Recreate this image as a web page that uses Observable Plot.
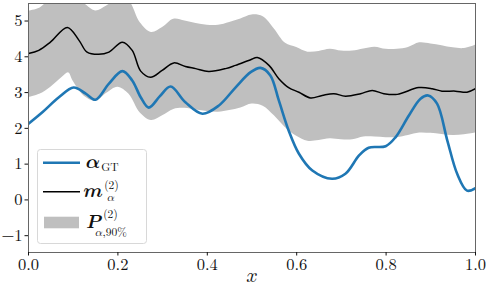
<!DOCTYPE html>
<html>
<head>
<meta charset="utf-8">
<script src="https://cdn.jsdelivr.net/npm/d3@7"></script>
<script src="https://cdn.jsdelivr.net/npm/@observablehq/plot@0.6"></script>
<style>
  body { margin: 0; background: white; }
  svg text, svg tspan { font-family: "Latin Modern Roman", "Latin Modern Math", "DejaVu Serif", serif; }
  svg .math, svg .math tspan { font-family: "Latin Modern Math", "Latin Modern Roman", "DejaVu Serif", serif; }
</style>
</head>
<body>
<div id="chart"></div>
<script>
// Ground truth alpha
const gtX = [0, .031, .068, .101, .128, .150, .180, .210, .232, .251, .269, .294, .318, .351, .389, .426, .463, .497, .519, .541, .560, .582, .605, .635, .679, .709, .740, .761, .799, .821, .851, .877, .894, .914, .937, .959, .981, 1.0];
const gtY = [2.13, 2.45, 2.87, 3.14, 2.97, 2.80, 3.25, 3.60, 3.34, 2.87, 2.58, 2.90, 3.17, 2.73, 2.41, 2.64, 3.14, 3.57, 3.69, 3.48, 2.78, 1.94, 1.29, 0.82, 0.59, 0.73, 1.25, 1.46, 1.50, 1.75, 2.36, 2.83, 2.92, 2.69, 1.66, 0.73, 0.26, 0.33];

// Posterior mean m_alpha^(2)
const meanX = [0, .023, .049, .087, .113, .131, .157, .180, .210, .232, .251, .273, .299, .325, .351, .374, .403, .441, .463, .497, .512, .538, .560, .582, .605, .631, .657, .683, .709, .743, .769, .795, .825, .873, .903, .925, .955, .981, 1.0];
const meanY = [4.09, 4.18, 4.41, 4.82, 4.46, 4.13, 4.07, 4.13, 4.41, 4.18, 3.60, 3.43, 3.62, 3.83, 3.73, 3.67, 3.59, 3.67, 3.76, 3.92, 3.98, 3.76, 3.39, 3.14, 3.01, 2.85, 2.92, 2.97, 2.90, 2.97, 3.06, 2.97, 2.95, 3.14, 3.11, 3.04, 3.04, 3.01, 3.11];

// 90% band P_alpha,90%^(2)
const bandX = [0, .025, .05, .075, .09, .1, .125, .15, .175, .2, .225, .25, .275, .3, .325, .35, .375, .4, .425, .45, .475, .5, .525, .55, .575, .6, .625, .65, .675, .7, .725, .75, .775, .8, .825, .85, .875, .9, .925, .95, .975, 1.0];
const bandUpper = [5.28, 5.36, 5.6, 5.65, 5.65, 5.65, 5.48, 5.28, 5.42, 5.6, 5.55, 4.95, 4.68, 4.82, 5.05, 5.0, 4.93, 4.88, 4.88, 4.96, 5.06, 5.17, 5.12, 4.78, 4.38, 4.26, 4.13, 4.15, 4.21, 4.16, 4.16, 4.22, 4.27, 4.21, 4.21, 4.26, 4.39, 4.36, 4.31, 4.25, 4.23, 4.32];
const bandLower = [2.86, 2.95, 3.15, 3.42, 3.55, 3.32, 2.9, 2.76, 2.98, 3.15, 2.95, 2.43, 2.22, 2.35, 2.53, 2.56, 2.51, 2.47, 2.45, 2.50, 2.57, 2.68, 2.62, 2.35, 2.02, 1.78, 1.64, 1.66, 1.71, 1.68, 1.68, 1.76, 1.76, 1.74, 1.74, 1.80, 1.87, 1.86, 1.83, 1.80, 1.82, 1.87];

const xTicks = [0, 0.2, 0.4, 0.6, 0.8, 1.0];
const yTicks = [-1, 0, 1, 2, 3, 4, 5];

const gt = gtX.map((x, i) => ({x, y: gtY[i]}));
const mean = meanX.map((x, i) => ({x, y: meanY[i]}));
const band = bandX.map((x, i) => ({x, lo: bandLower[i], hi: bandUpper[i]}));

const FONT = "Latin Modern Roman, Latin Modern Math, DejaVu Serif, serif";

const chart = Plot.plot({
  width: 489,
  height: 294,
  marginLeft: 28,
  marginRight: 14,
  marginTop: 3,
  marginBottom: 42,
  style: {fontFamily: FONT, fontSize: "16px", background: "white", color: "#111"},
  x: {domain: [0, 1], label: null},
  y: {domain: [-1.47, 5.49], label: null},
  marks: [
    Plot.areaY(band, {x: "x", y1: "lo", y2: "hi", fill: "#bfbfbf", curve: "catmull-rom", clip: true}),
    Plot.line(gt, {x: "x", y: "y", stroke: "#1f77b4", strokeWidth: 2.6, curve: "catmull-rom", clip: true}),
    Plot.line(mean, {x: "x", y: "y", stroke: "black", strokeWidth: 1.5, curve: "catmull-rom", clip: true}),
    Plot.frame({stroke: "#666", strokeWidth: 1}),
    Plot.axisX({ticks: xTicks, tickFormat: d3.format(".1f"), tickSize: 3.5, tickPadding: 2.5, fontSize: 16.5, label: null}),
    Plot.axisY({ticks: yTicks, tickFormat: d => d < 0 ? "\u2212" + (-d) : String(d), tickSize: 3.5, tickPadding: 2.5, fontSize: 16.5, label: null}),
    Plot.text(["\u{1D465}"], {frameAnchor: "bottom", dy: 29, fontSize: 20, className: "math"})
  ]
});

document.getElementById("chart").append(chart);

// Legend inside the plot
const svg = d3.select(chart);
const g = svg.append("g");
g.append("rect").attr("x", 37.5).attr("y", 149.5).attr("width", 109).attr("height", 94)
  .attr("rx", 3).attr("fill", "white").attr("fill-opacity", 0.85).attr("stroke", "#d8d8d8");
// entry 1: alpha_GT
g.append("line").attr("x1", 43).attr("x2", 80).attr("y1", 162.7).attr("y2", 162.7)
  .attr("stroke", "#1f77b4").attr("stroke-width", 2.6);
g.append("text").attr("class", "math").attr("x", 93).attr("y", 167.5).attr("font-size", 19).text("\u{1D736}");
g.append("text").attr("x", 110).attr("y", 170.5).attr("font-size", 11.5).text("GT");
// entry 2: m_alpha^(2)
g.append("line").attr("x1", 43).attr("x2", 80).attr("y1", 191.7).attr("y2", 191.7)
  .attr("stroke", "black").attr("stroke-width", 1.5);
g.append("text").attr("class", "math").attr("x", 93).attr("y", 197.3).attr("font-size", 19).text("\u{1D48E}");
g.append("text").attr("x", 111.5).attr("y", 189).attr("font-size", 11.5).text("(2)");
g.append("text").attr("class", "math").attr("x", 111).attr("y", 201).attr("font-size", 11.5).text("\u{1D6FC}");
// entry 3: P_{alpha,90%}^(2)
g.append("rect").attr("x", 44).attr("y", 216.7).attr("width", 35).attr("height", 11.6).attr("fill", "#bfbfbf");
g.append("text").attr("class", "math").attr("x", 93).attr("y", 228.3).attr("font-size", 18.5).text("\u{1D477}");
g.append("text").attr("x", 110.5).attr("y", 217.5).attr("font-size", 11.5).text("(2)");
g.append("text").attr("x", 111).attr("y", 236).attr("font-size", 11.5)
  .call(t => { t.append("tspan").attr("class", "math").style("font-family", "Latin Modern Math, serif").text("\u{1D6FC}"); t.append("tspan").text(",90%"); });
</script>
</body>
</html>
